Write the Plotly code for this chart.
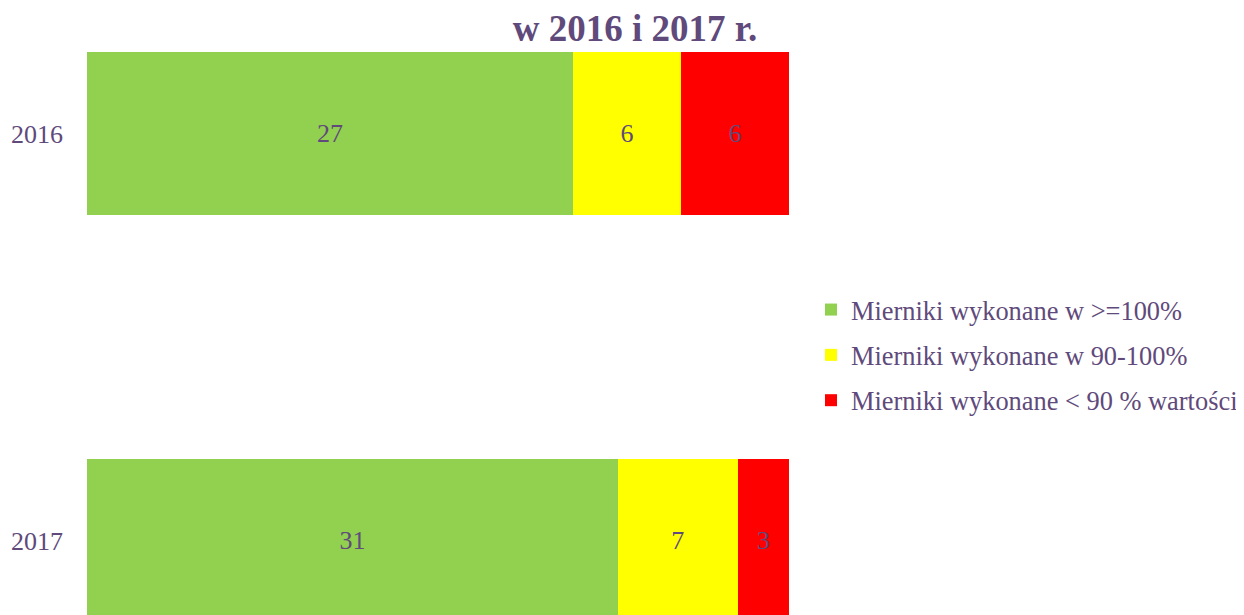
import plotly.graph_objects as go

years = ["2016", "2017"]
series_names = [
    "Mierniki wykonane w >=100%",
    "Mierniki wykonane w 90-100%",
    "Mierniki wykonane < 90 % wartości",
]
vals_ge100 = [27, 31]
vals_90_100 = [6, 7]
vals_lt90 = [6, 3]
colors = ["#92D050", "#FFFF00", "#FF0000"]
title_text = "w 2016 i 2017 r."

TXT = "#604A7B"
FONT = "Liberation Serif, Times New Roman, serif"

fig = go.Figure()
for i, (name, vals) in enumerate(zip(series_names, [vals_ge100, vals_90_100, vals_lt90])):
    fig.add_trace(go.Bar(
        y=years, x=vals, name=name, orientation="h",
        marker=dict(color=colors[i], line=dict(width=0)),
        text=[str(v) for v in vals], textposition="inside",
        insidetextanchor="middle", textangle=0,
        textfont=dict(family=FONT, size=26, color=TXT),
        legendgroup=f"g{i}",
    ))

fig.update_layout(
    width=1236, height=607,
    barmode="stack", barnorm="percent", bargap=0.6,
    paper_bgcolor="white", plot_bgcolor="white",
    margin=dict(l=79, r=455, t=44, b=0),
    font=dict(family=FONT, color=TXT),
    uniformtext=dict(minsize=26, mode="show"),
    xaxis=dict(visible=False, range=[0, 100], fixedrange=True),
    yaxis=dict(type="category", range=[1.183, -0.2], showgrid=False, zeroline=False,
               showline=False, ticks="", ticklabelstandoff=23,
               tickfont=dict(family=FONT, size=26, color=TXT)),
    legend=dict(xref="container", x=803/1236, xanchor="left", y=0.462, yanchor="middle",
                font=dict(family=FONT, size=26.4, color=TXT),
                tracegroupgap=8, itemsizing="constant", bgcolor="rgba(0,0,0,0)"),
    showlegend=True,
    title=dict(text=f"<b>{title_text}</b>", x=627/1236, xanchor="center",
               y=1 - 20/607, yanchor="middle", yref="container",
               font=dict(family=FONT, size=37, color=TXT)),
)
fig.write_html("out.html")
